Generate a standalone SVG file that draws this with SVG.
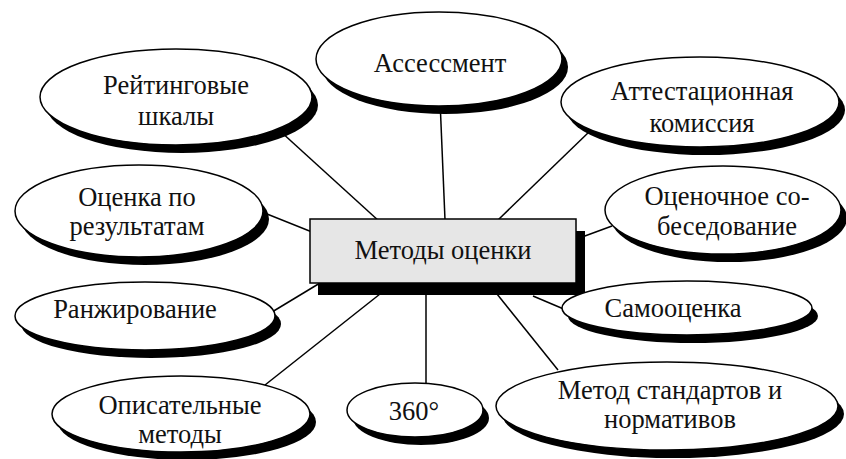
<svg xmlns="http://www.w3.org/2000/svg" width="846" height="459" viewBox="0 0 846 459">
<style>
.bg{fill:#ffffff}
.sh{fill:#000000}
.el{fill:#ffffff;stroke:#000000;stroke-width:1.5}
.box{fill:#e6e6e6;stroke:#000000;stroke-width:1.5}
text{font-family:'Liberation Serif','Times New Roman',serif;font-size:26.5px;fill:#111111;text-anchor:middle}
#connectors line{stroke:#000000;stroke-width:1.5}
</style>
<rect class="bg" x="0" y="0" width="846" height="459"/>
<g id="connectors">
<line x1="280" y1="131" x2="380" y2="222"/>
<line x1="262" y1="212" x2="312" y2="232"/>
<line x1="272" y1="312" x2="320" y2="283"/>
<line x1="265" y1="385" x2="380" y2="294"/>
<line x1="426" y1="294" x2="426" y2="385"/>
<line x1="497" y1="294" x2="558" y2="370"/>
<line x1="533" y1="296" x2="566" y2="310"/>
<line x1="574" y1="240" x2="612" y2="226"/>
<line x1="590" y1="131" x2="498" y2="220"/>
<line x1="440" y1="100" x2="445" y2="220"/>
</g>
<g id="center">
<rect class="sh" x="318" y="231" width="267" height="64"/>
<rect class="box" x="310" y="219" width="266" height="64"/>
<text x="443" y="259">Методы оценки</text>
</g>
<g id="n-assessment">
<ellipse class="sh" cx="445" cy="67" rx="123" ry="47"/>
<ellipse class="el" cx="439" cy="59" rx="123" ry="47"/>
<text x="440" y="72">Ассессмент</text>
</g>
<g id="n-rating">
<ellipse class="sh" cx="182" cy="105" rx="136" ry="48"/>
<ellipse class="el" cx="176" cy="97" rx="136" ry="48"/>
<text x="176" y="94">Рейтинговые</text>
<text x="176" y="125">шкалы</text>
</g>
<g id="n-attest">
<ellipse class="sh" cx="706" cy="110" rx="139" ry="45"/>
<ellipse class="el" cx="700" cy="102" rx="139" ry="45"/>
<text x="702" y="100">Аттестационная</text>
<text x="702" y="132">комиссия</text>
</g>
<g id="n-results">
<ellipse class="sh" cx="145" cy="219" rx="124" ry="46"/>
<ellipse class="el" cx="139" cy="211" rx="124" ry="46"/>
<text x="137" y="206">Оценка по</text>
<text x="137" y="235">результатам</text>
</g>
<g id="n-interview">
<ellipse class="sh" cx="729" cy="218" rx="118" ry="44"/>
<ellipse class="el" cx="723" cy="210" rx="118" ry="44"/>
<text x="727" y="205">Оценочное со-</text>
<text x="727" y="235">беседование</text>
</g>
<g id="n-ranking">
<ellipse class="sh" cx="151" cy="324" rx="130" ry="34"/>
<ellipse class="el" cx="145" cy="316" rx="130" ry="34"/>
<text x="135" y="318">Ранжирование</text>
</g>
<g id="n-self">
<ellipse class="sh" cx="693" cy="316" rx="125" ry="27"/>
<ellipse class="el" cx="687" cy="308" rx="125" ry="27"/>
<text x="673" y="317">Самооценка</text>
</g>
<g id="n-descriptive">
<ellipse class="sh" cx="187" cy="422" rx="129" ry="38"/>
<ellipse class="el" cx="181" cy="414" rx="129" ry="38"/>
<text x="180" y="414">Описательные</text>
<text x="180" y="443">методы</text>
</g>
<g id="n-360">
<ellipse class="sh" cx="421" cy="418" rx="68" ry="27"/>
<ellipse class="el" cx="415" cy="410" rx="68" ry="27"/>
<text x="414" y="420">360°</text>
</g>
<g id="n-standards">
<ellipse class="sh" cx="673" cy="414" rx="171" ry="44"/>
<ellipse class="el" cx="667" cy="406" rx="171" ry="44"/>
<text x="670" y="399">Метод стандартов и</text>
<text x="670" y="428">нормативов</text>
</g>
</svg>
